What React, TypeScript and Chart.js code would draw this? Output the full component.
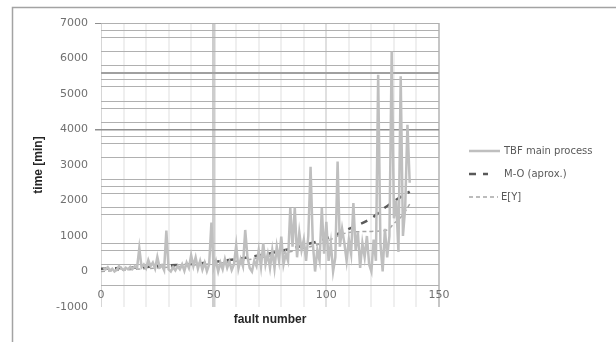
import React, { useEffect, useRef } from "react";
import { Chart, registerables } from "chart.js";

Chart.register(...registerables);

// ---- data ----
const tbfValues = [
  100, 60, 120, 30, 80, 0, 50, 150, 90, 40,
  110, 60, 130, 70, 150, 100, 660, 120, 200, 90,
  320, 150, 250, 80, 410, 120, 180, 40, 1150, 60,
  0, 120, 30, 150, 60, 200, 20, 250, 100, 460,
  150, 400, 80, 300, 50, 250, 10, 200, 1380, 100,
  300, 0, 250, 60, 350, 100, 280, 40, 200, 740,
  80, 350, 150, 1170, 400, 100, 0, 300, 150, 600,
  130, 800, 200, 500, 100, 600, 90, 700, 300, 980,
  200, 500, 300, 1790, 700, 1800, 400, 1100, 600, 900,
  300, 1000, 2950, 800, 0, 600, 300, 1790, 500, 1400,
  300, 800, 0, 400, 3100, 700, 1200, 800, 300, 900,
  500, 1930, 600, 1100, 100, 800, 400, 1000, 200, 0,
  900, 300, 5540, 800, 0, 1200, 400, 1000, 6200, 1500,
  2000, 550, 5500, 1000, 1800, 4130, 2500,
];
const faultNumbers = tbfValues.map((_, i) => i + 1);

const moFaults = [0, 10, 20, 30, 40, 50, 60, 70, 80, 90, 100, 110, 120, 125, 130, 137];
const moValues = [80, 100, 130, 170, 210, 270, 350, 450, 580, 740, 930, 1200, 1500, 1750, 1980, 2250];

const eyFaults = [0, 10, 20, 30, 40, 50, 60, 70, 80, 90, 100, 105, 110, 120, 127, 130, 134, 137];
const eyValues = [0, 40, 80, 120, 170, 220, 290, 380, 500, 650, 840, 1000, 1100, 1130, 1170, 1350, 1600, 1900];

const seriesNames = ["TBF main process", "M-O (aprox.)", "E[Y]"];

const yLabelTicks = [-1000, 0, 1000, 2000, 3000, 4000, 5000, 6000, 7000];
const yGridValues = [
  -400, 200, 600, 800, 1600, 1800, 2200, 2400, 2600, 3200, 3600, 3800, 4000,
  4200, 4600, 4800, 5200, 5400, 5600, 5800, 6200, 6600, 6800, 7000,
];
const yTickMarkValues = [4000, 7000];
const xLabelTicks = [0, 50, 100, 150];
const xGridValues = [0, 10, 20, 30, 40, 50, 60, 70, 80, 90, 100, 110, 120, 130, 140, 150];

const TICK_FONT = { family: "'DejaVu Sans'", size: 11 };
const TITLE_FONT = { family: "'Liberation Sans Narrow', 'Liberation Sans'", size: 12, weight: "bold" as const };

const framePlugin = {
  id: "frameAndLegend",
  beforeDraw(chart: any) {
    const ctx = chart.ctx;
    ctx.save();
    ctx.fillStyle = "#ffffff";
    ctx.fillRect(0, 0, chart.width, chart.height);
    ctx.strokeStyle = "#a3a3a3";
    ctx.lineWidth = 1.5;
    ctx.beginPath();
    ctx.moveTo(12.5, chart.height);
    ctx.lineTo(12.5, 7.5);
    ctx.lineTo(chart.width, 7.5);
    ctx.stroke();
    ctx.restore();
  },
  afterDraw(chart: any) {
    const ctx = chart.ctx;
    const rows = [151, 174, 197];
    const sampleEnds = [500, 488, 498];
    ctx.save();
    chart.data.datasets.forEach((ds: any, i: number) => {
      const y = rows[i];
      ctx.strokeStyle = ds.borderColor;
      ctx.lineWidth = ds.borderWidth;
      ctx.setLineDash(ds.borderDash || []);
      ctx.beginPath();
      ctx.moveTo(469, y);
      ctx.lineTo(sampleEnds[i], y);
      ctx.stroke();
      ctx.setLineDash([]);
      ctx.fillStyle = "#595959";
      ctx.font = "10px 'DejaVu Sans'";
      ctx.textBaseline = "middle";
      ctx.textAlign = "left";
      ctx.fillText(ds.label, i === 2 ? 501 : 504, y);
    });
    ctx.restore();
  },
};

export default function App() {
  const canvasRef = useRef<HTMLCanvasElement | null>(null);

  useEffect(() => {
    if (!canvasRef.current) return;
    const chart = new Chart(canvasRef.current, {
      type: "line",
      data: {
        datasets: [
          {
            label: seriesNames[0],
            data: faultNumbers.map((f, i) => ({ x: f, y: tbfValues[i] })),
            borderColor: "#bfbfbf",
            borderWidth: 2.5,
            pointRadius: 0,
            tension: 0,
          },
          {
            label: seriesNames[1],
            data: moFaults.map((f, i) => ({ x: f, y: moValues[i] })),
            borderColor: "#595959",
            borderWidth: 2.5,
            borderDash: [7, 7],
            pointRadius: 0,
            cubicInterpolationMode: "monotone",
          },
          {
            label: seriesNames[2],
            data: eyFaults.map((f, i) => ({ x: f, y: eyValues[i] })),
            borderColor: "#a6a6a6",
            borderWidth: 1.5,
            borderDash: [4, 3],
            pointRadius: 0,
            cubicInterpolationMode: "monotone",
          },
        ],
      },
      options: {
        animation: false,
        responsive: true,
        maintainAspectRatio: false,
        layout: { padding: { left: 31, right: 177, top: 23, bottom: 15 } },
        plugins: {
          legend: { display: false },
          tooltip: { enabled: false },
        },
        scales: {
          x: {
            type: "linear",
            min: 0,
            max: 150,
            afterBuildTicks: (s: any) => {
              s.ticks = xGridValues.map((v) => ({ value: v }));
            },
            afterFit: (s: any) => {
              s.height = 20;
            },
            ticks: {
              autoSkip: false,
              maxRotation: 0,
              mirror: true,
              padding: 5,
              font: TICK_FONT,
              color: "#707070",
              callback: (v: any) => (xLabelTicks.includes(Number(v)) ? String(v) : ""),
            },
            grid: {
              drawTicks: false,
              color: (c: any) => {
                const v = c.tick && c.tick.value;
                if (v === 50) return "#cdcdcd";
                if (v === 100) return "#e0e0e0";
                if (v === 150) return "#c6c6c6";
                if (v === 0) return "#d6d6d6";
                return "#efefef";
              },
              lineWidth: (c: any) => {
                const v = c.tick && c.tick.value;
                if (v === 50) return 3.5;
                if (v === 0) return 1;
                return 2;
              },
            },
            border: { display: false },
            title: {
              display: true,
              text: "fault number",
              font: TITLE_FONT,
              color: "#262626",
              padding: { top: 0, bottom: 0 },
            },
          },
          y: {
            type: "linear",
            min: -1000,
            max: 7000,
            afterBuildTicks: (s: any) => {
              const vals = Array.from(new Set([...yLabelTicks, ...yGridValues])).sort((a, b) => a - b);
              s.ticks = vals.map((v) => ({ value: v }));
            },
            afterFit: (s: any) => {
              s.width = 70;
            },
            ticks: {
              autoSkip: false,
              padding: 7,
              font: TICK_FONT,
              color: "#707070",
              callback: (v: any) => (yLabelTicks.includes(Number(v)) ? String(v) : ""),
            },
            grid: {
              tickLength: 6,
              color: (c: any) => {
                const v = c.tick && c.tick.value;
                if (!yGridValues.includes(v)) return "rgba(0,0,0,0)";
                if (v === 4000) return "#8f8f8f";
                if (v === 5600) return "#a0a0a0";
                return "#b0b0b0";
              },
              tickColor: (c: any) => {
                const v = c.tick && c.tick.value;
                return yTickMarkValues.includes(v) ? "#8f8f8f" : "rgba(0,0,0,0)";
              },
              lineWidth: (c: any) => {
                const v = c.tick && c.tick.value;
                if (v === 5600) return 2;
                if (v === 4000) return 1.5;
                return 1;
              },
            },
            border: { display: false },
            title: {
              display: true,
              text: "time [min]",
              font: TITLE_FONT,
              color: "#262626",
              padding: { top: 0, bottom: 0 },
            },
          },
        },
      },
      plugins: [framePlugin],
    } as any);
    return () => chart.destroy();
  }, []);

  return (
    <div style={{ position: "fixed", left: 0, top: 0, width: 616, height: 342, background: "#fff" }}>
      <canvas ref={canvasRef} />
    </div>
  );
}
